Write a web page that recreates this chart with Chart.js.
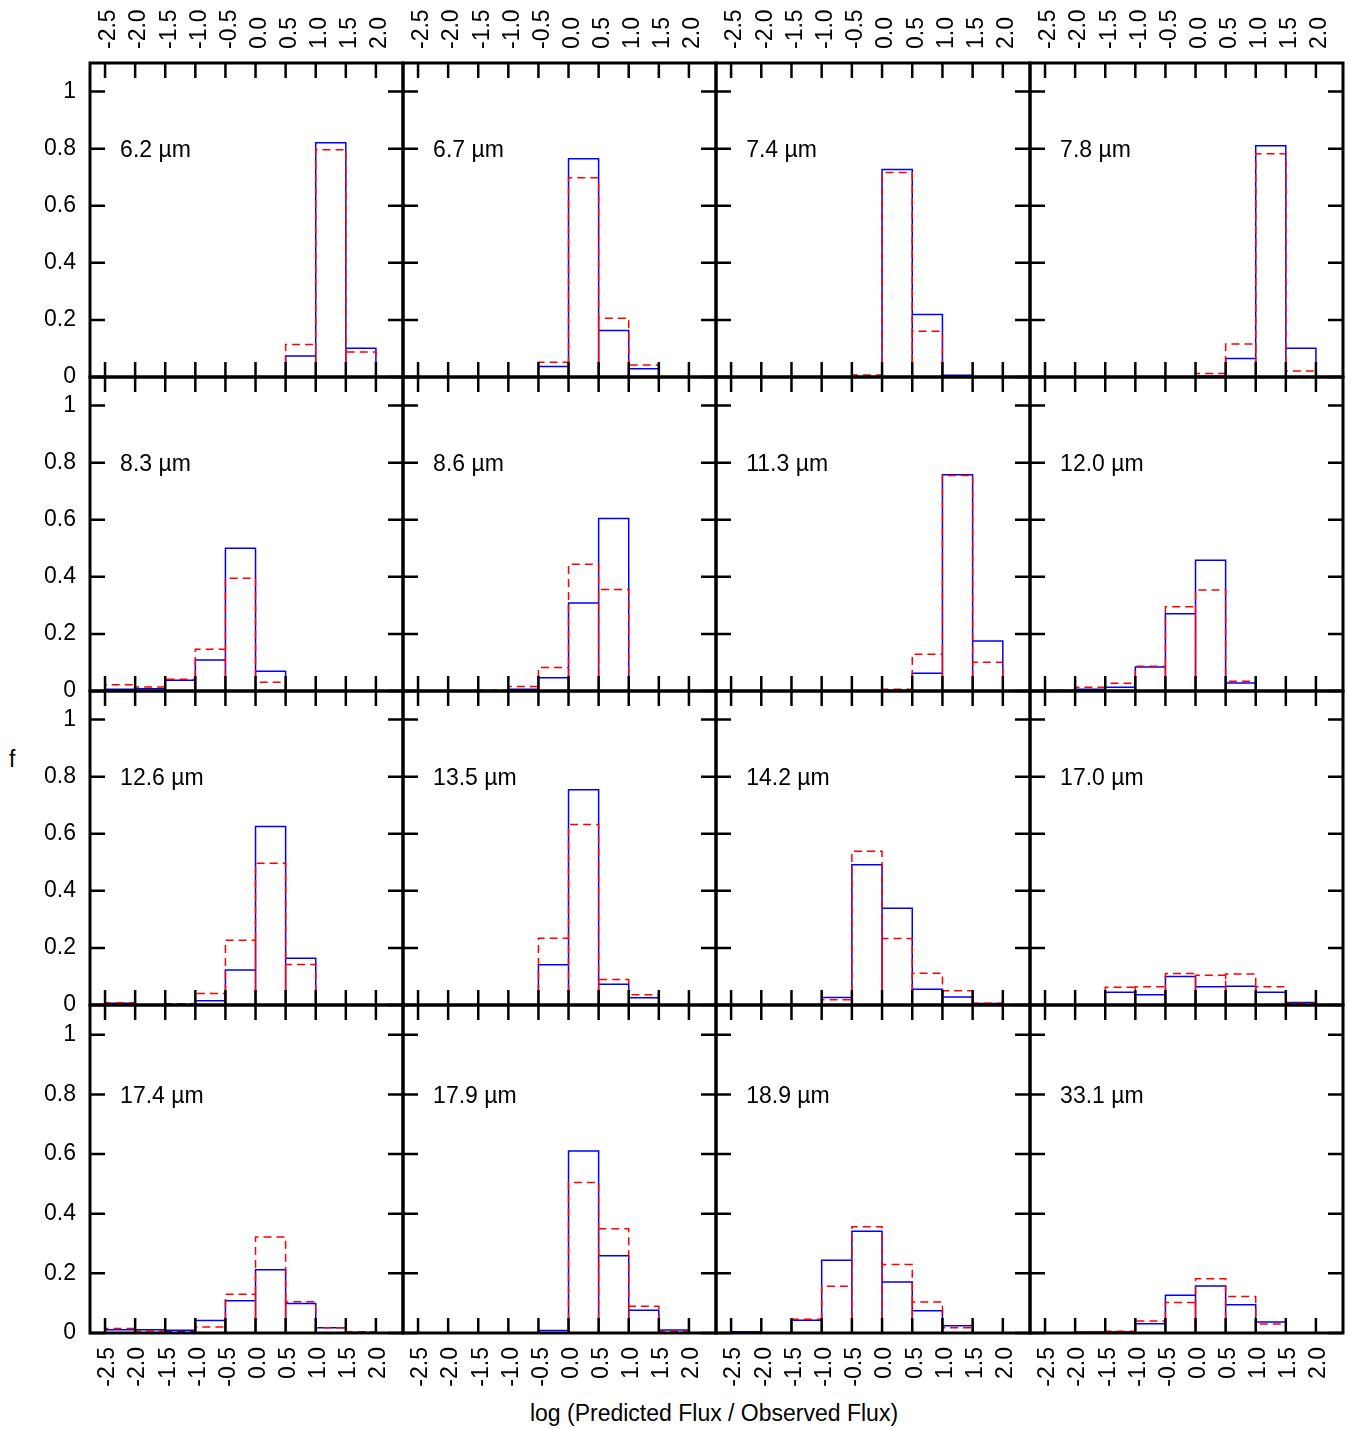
<!DOCTYPE html>
<html>
<head>
<meta charset="utf-8">
<script src="https://cdn.jsdelivr.net/npm/chart.js@4.4.1/dist/chart.umd.min.js"></script>
<style>
body { margin: 0; background: #fff; width: 1351px; height: 1429px; position: relative; overflow: hidden;
       font-family: "Liberation Sans", Arial, sans-serif; }
canvas { position: absolute; }
.title { position: absolute; font-size: 23px; line-height: 26px; color: #000; white-space: nowrap; }
</style>
</head>
<body>
<div class="title" style="left:9px; top:746px;">f</div>
<div class="title" style="left:0; width:1428px; text-align:center; top:1400px;">log (Predicted Flux / Observed Flux)</div>
<script>
// panel labels (micron)
const wavelengths = ["6.2", "6.7", "7.4", "7.8", "8.3", "8.6", "11.3", "12.0",
                     "12.6", "13.5", "14.2", "17.0", "17.4", "17.9", "18.9", "33.1"];

// histogram bins: left edges, width 0.5
const binStarts = [-2.5, -2.0, -1.5, -1.0, -0.5, 0.0, 0.5, 1.0, 1.5];
const binWidth = 0.5;

const xTickValues = [-2.5, -2.0, -1.5, -1.0, -0.5, 0.0, 0.5, 1.0, 1.5, 2.0];
const xTickLabels = ["-2.5", "-2.0", "-1.5", "-1.0", "-0.5", "0.0", "0.5", "1.0", "1.5", "2.0"];
const yTickValues = [0, 0.2, 0.4, 0.6, 0.8, 1];
const yTickLabels = ["0", "0.2", "0.4", "0.6", "0.8", "1"];

// solid blue histograms, one row per panel
const fracSolid = [
  [0, 0, 0, 0, 0, 0, 0.074, 0.821, 0.101],
  [0, 0, 0, 0, 0.037, 0.765, 0.163, 0.029, 0],
  [0, 0, 0, 0, 0, 0.727, 0.219, 0.006, 0],
  [0, 0, 0, 0, 0, 0.003, 0.065, 0.81, 0.101],
  [0.006, 0.008, 0.038, 0.109, 0.5, 0.069, 0, 0, 0],
  [0, 0, 0, 0.006, 0.046, 0.308, 0.604, 0, 0],
  [0, 0, 0, 0, 0, 0.002, 0.062, 0.758, 0.175],
  [0.002, 0.006, 0.013, 0.084, 0.271, 0.458, 0.028, 0, 0],
  [0.006, 0, 0, 0.015, 0.123, 0.625, 0.164, 0, 0],
  [0, 0, 0, 0, 0.141, 0.754, 0.073, 0.025, 0],
  [0, 0, 0, 0.026, 0.491, 0.339, 0.055, 0.028, 0.005],
  [0, 0, 0.045, 0.036, 0.1, 0.064, 0.066, 0.045, 0.009],
  [0.011, 0.011, 0.009, 0.042, 0.108, 0.212, 0.099, 0.018, 0.002],
  [0, 0, 0, 0, 0.008, 0.61, 0.259, 0.076, 0.01],
  [0.004, 0, 0.043, 0.244, 0.341, 0.171, 0.075, 0.024, 0],
  [0, 0.003, 0.003, 0.031, 0.127, 0.158, 0.095, 0.037, 0]
];

// dashed red histograms
const fracDashed = [
  [0, 0, 0, 0, 0, 0, 0.114, 0.796, 0.088],
  [0, 0, 0, 0, 0.052, 0.698, 0.206, 0.042, 0],
  [0, 0, 0, 0, 0.007, 0.716, 0.16, 0.002, 0],
  [0, 0, 0, 0, 0, 0.012, 0.116, 0.782, 0.021],
  [0.022, 0.014, 0.041, 0.146, 0.395, 0.031, 0, 0, 0],
  [0, 0.002, 0.003, 0.016, 0.082, 0.444, 0.356, 0, 0],
  [0, 0, 0, 0, 0, 0.006, 0.129, 0.755, 0.101],
  [0.002, 0.013, 0.027, 0.087, 0.295, 0.354, 0.034, 0, 0],
  [0.008, 0, 0.004, 0.04, 0.227, 0.497, 0.142, 0, 0],
  [0, 0, 0, 0, 0.234, 0.632, 0.089, 0.036, 0],
  [0, 0, 0.002, 0.018, 0.539, 0.233, 0.111, 0.05, 0.006],
  [0, 0, 0.062, 0.064, 0.11, 0.104, 0.109, 0.064, 0.006],
  [0.015, 0.007, 0.004, 0.02, 0.13, 0.322, 0.105, 0.018, 0.004],
  [0, 0, 0, 0, 0.001, 0.505, 0.35, 0.09, 0.006],
  [0.001, 0, 0.046, 0.157, 0.356, 0.23, 0.104, 0.018, 0],
  [0, 0.004, 0.006, 0.04, 0.102, 0.182, 0.122, 0.03, 0]
];

// page layout (plot frame edges in px)
const colEdges = [90, 403, 716, 1030, 1343];
const rowEdges = [63, 377, 691, 1005, 1333];
const PAD = 14;
const PAGE_BOTTOM = 1400;
const FONT_SIZE = 23;
const FONT = { family: '"Liberation Sans", Arial, sans-serif', size: FONT_SIZE, lineHeight: 1.2 };

// outline of each bin as a box, broken between boxes
function boxes(values) {
  const pts = [];
  values.forEach((v, i) => {
    const a = binStarts[i], b = a + binWidth;
    pts.push({ x: a, y: 0 }, { x: a, y: v }, { x: b, y: v }, { x: b, y: 0 }, { x: b, y: null });
  });
  return pts;
}

// frame, inward ticks and panel label
const framePlugin = {
  id: 'frame',
  afterDatasetsDraw(chart, args, opts) {
    const { ctx, chartArea: a, scales } = chart;
    const xs = scales.x, ys = scales.y;
    ctx.save();
    ctx.strokeStyle = '#000';
    ctx.lineWidth = 2.5;
    ctx.beginPath();
    xTickValues.forEach(v => {
      const px = xs.getPixelForValue(v);
      ctx.moveTo(px, a.bottom); ctx.lineTo(px, a.bottom - 15);
      ctx.moveTo(px, a.top); ctx.lineTo(px, a.top + 15);
    });
    yTickValues.forEach(v => {
      const py = ys.getPixelForValue(v);
      ctx.moveTo(a.left, py); ctx.lineTo(a.left + 15, py);
      ctx.moveTo(a.right, py); ctx.lineTo(a.right - 15, py);
    });
    ctx.stroke();
    ctx.lineWidth = 3;
    ctx.strokeRect(a.left, a.top, a.right - a.left, a.bottom - a.top);
    ctx.font = FONT_SIZE + 'px "Liberation Sans", Arial, sans-serif';
    ctx.fillStyle = '#000';
    ctx.textBaseline = 'middle';
    ctx.textAlign = 'left';
    ctx.fillText(opts.label, xs.getPixelForValue(-2.25), ys.getPixelForValue(0.8) + 2);
    ctx.restore();
  }
};

function xAxis(position, show, height) {
  return {
    type: 'linear', position: position, min: -2.75, max: 2.45, display: show,
    grid: { display: false, drawTicks: false }, border: { display: false },
    ticks: { font: FONT, color: '#000', minRotation: 90, maxRotation: 90, autoSkip: false,
             padding: 14, labelOffset: position === 'top' ? FONT_SIZE * 1.2 + 4 : 3,
             callback: (v, i) => xTickLabels[i] },
    afterBuildTicks: s => { s.ticks = xTickValues.map(v => ({ value: v })); },
    afterFit: s => { s.height = show ? height : 0; s.paddingLeft = 0; s.paddingRight = 0; }
  };
}

for (let r = 0; r < 4; r++) {
  for (let c = 0; c < 4; c++) {
    const k = r * 4 + c;
    const left = c === 0 ? 0 : colEdges[c] - PAD;
    const right = colEdges[c + 1] + PAD;
    const top = r === 0 ? 0 : rowEdges[r] - PAD;
    const bottom = r === 3 ? PAGE_BOTTOM : rowEdges[r + 1] + PAD;
    const cv = document.createElement('canvas');
    cv.width = right - left;
    cv.height = bottom - top;
    cv.style.left = left + 'px';
    cv.style.top = top + 'px';
    document.body.appendChild(cv);

    new Chart(cv, {
      type: 'line',
      data: {
        datasets: [
          { data: boxes(fracDashed[k]), borderColor: '#ff0000', borderWidth: 1.5, borderDash: [8, 5],
            pointRadius: 0, spanGaps: false, tension: 0 },
          { data: boxes(fracSolid[k]), borderColor: '#0000ff', borderWidth: 1.5,
            pointRadius: 0, spanGaps: false, tension: 0 }
        ]
      },
      options: {
        responsive: false,
        animation: false,
        layout: { padding: { left: c === 0 ? 0 : PAD, right: PAD, top: r === 0 ? 0 : PAD, bottom: r === 3 ? 0 : PAD } },
        plugins: {
          legend: { display: false },
          tooltip: { enabled: false },
          frame: { label: wavelengths[k] + ' \u00b5m' }
        },
        scales: {
          x: xAxis('bottom', r === 3, PAGE_BOTTOM - rowEdges[4]),
          x2: xAxis('top', r === 0, rowEdges[0]),
          y: {
            min: 0, max: 1.1, display: c === 0,
            grid: { display: false, drawTicks: false }, border: { display: false },
            ticks: { font: FONT, color: '#000', padding: 14,
                     callback: (v, i) => yTickLabels[i] },
            afterBuildTicks: s => { s.ticks = yTickValues.map(v => ({ value: v })); },
            afterFit: s => { s.width = c === 0 ? colEdges[0] : 0; s.paddingTop = 0; s.paddingBottom = 0; }
          }
        }
      },
      plugins: [framePlugin]
    });
  }
}
</script>
</body>
</html>
